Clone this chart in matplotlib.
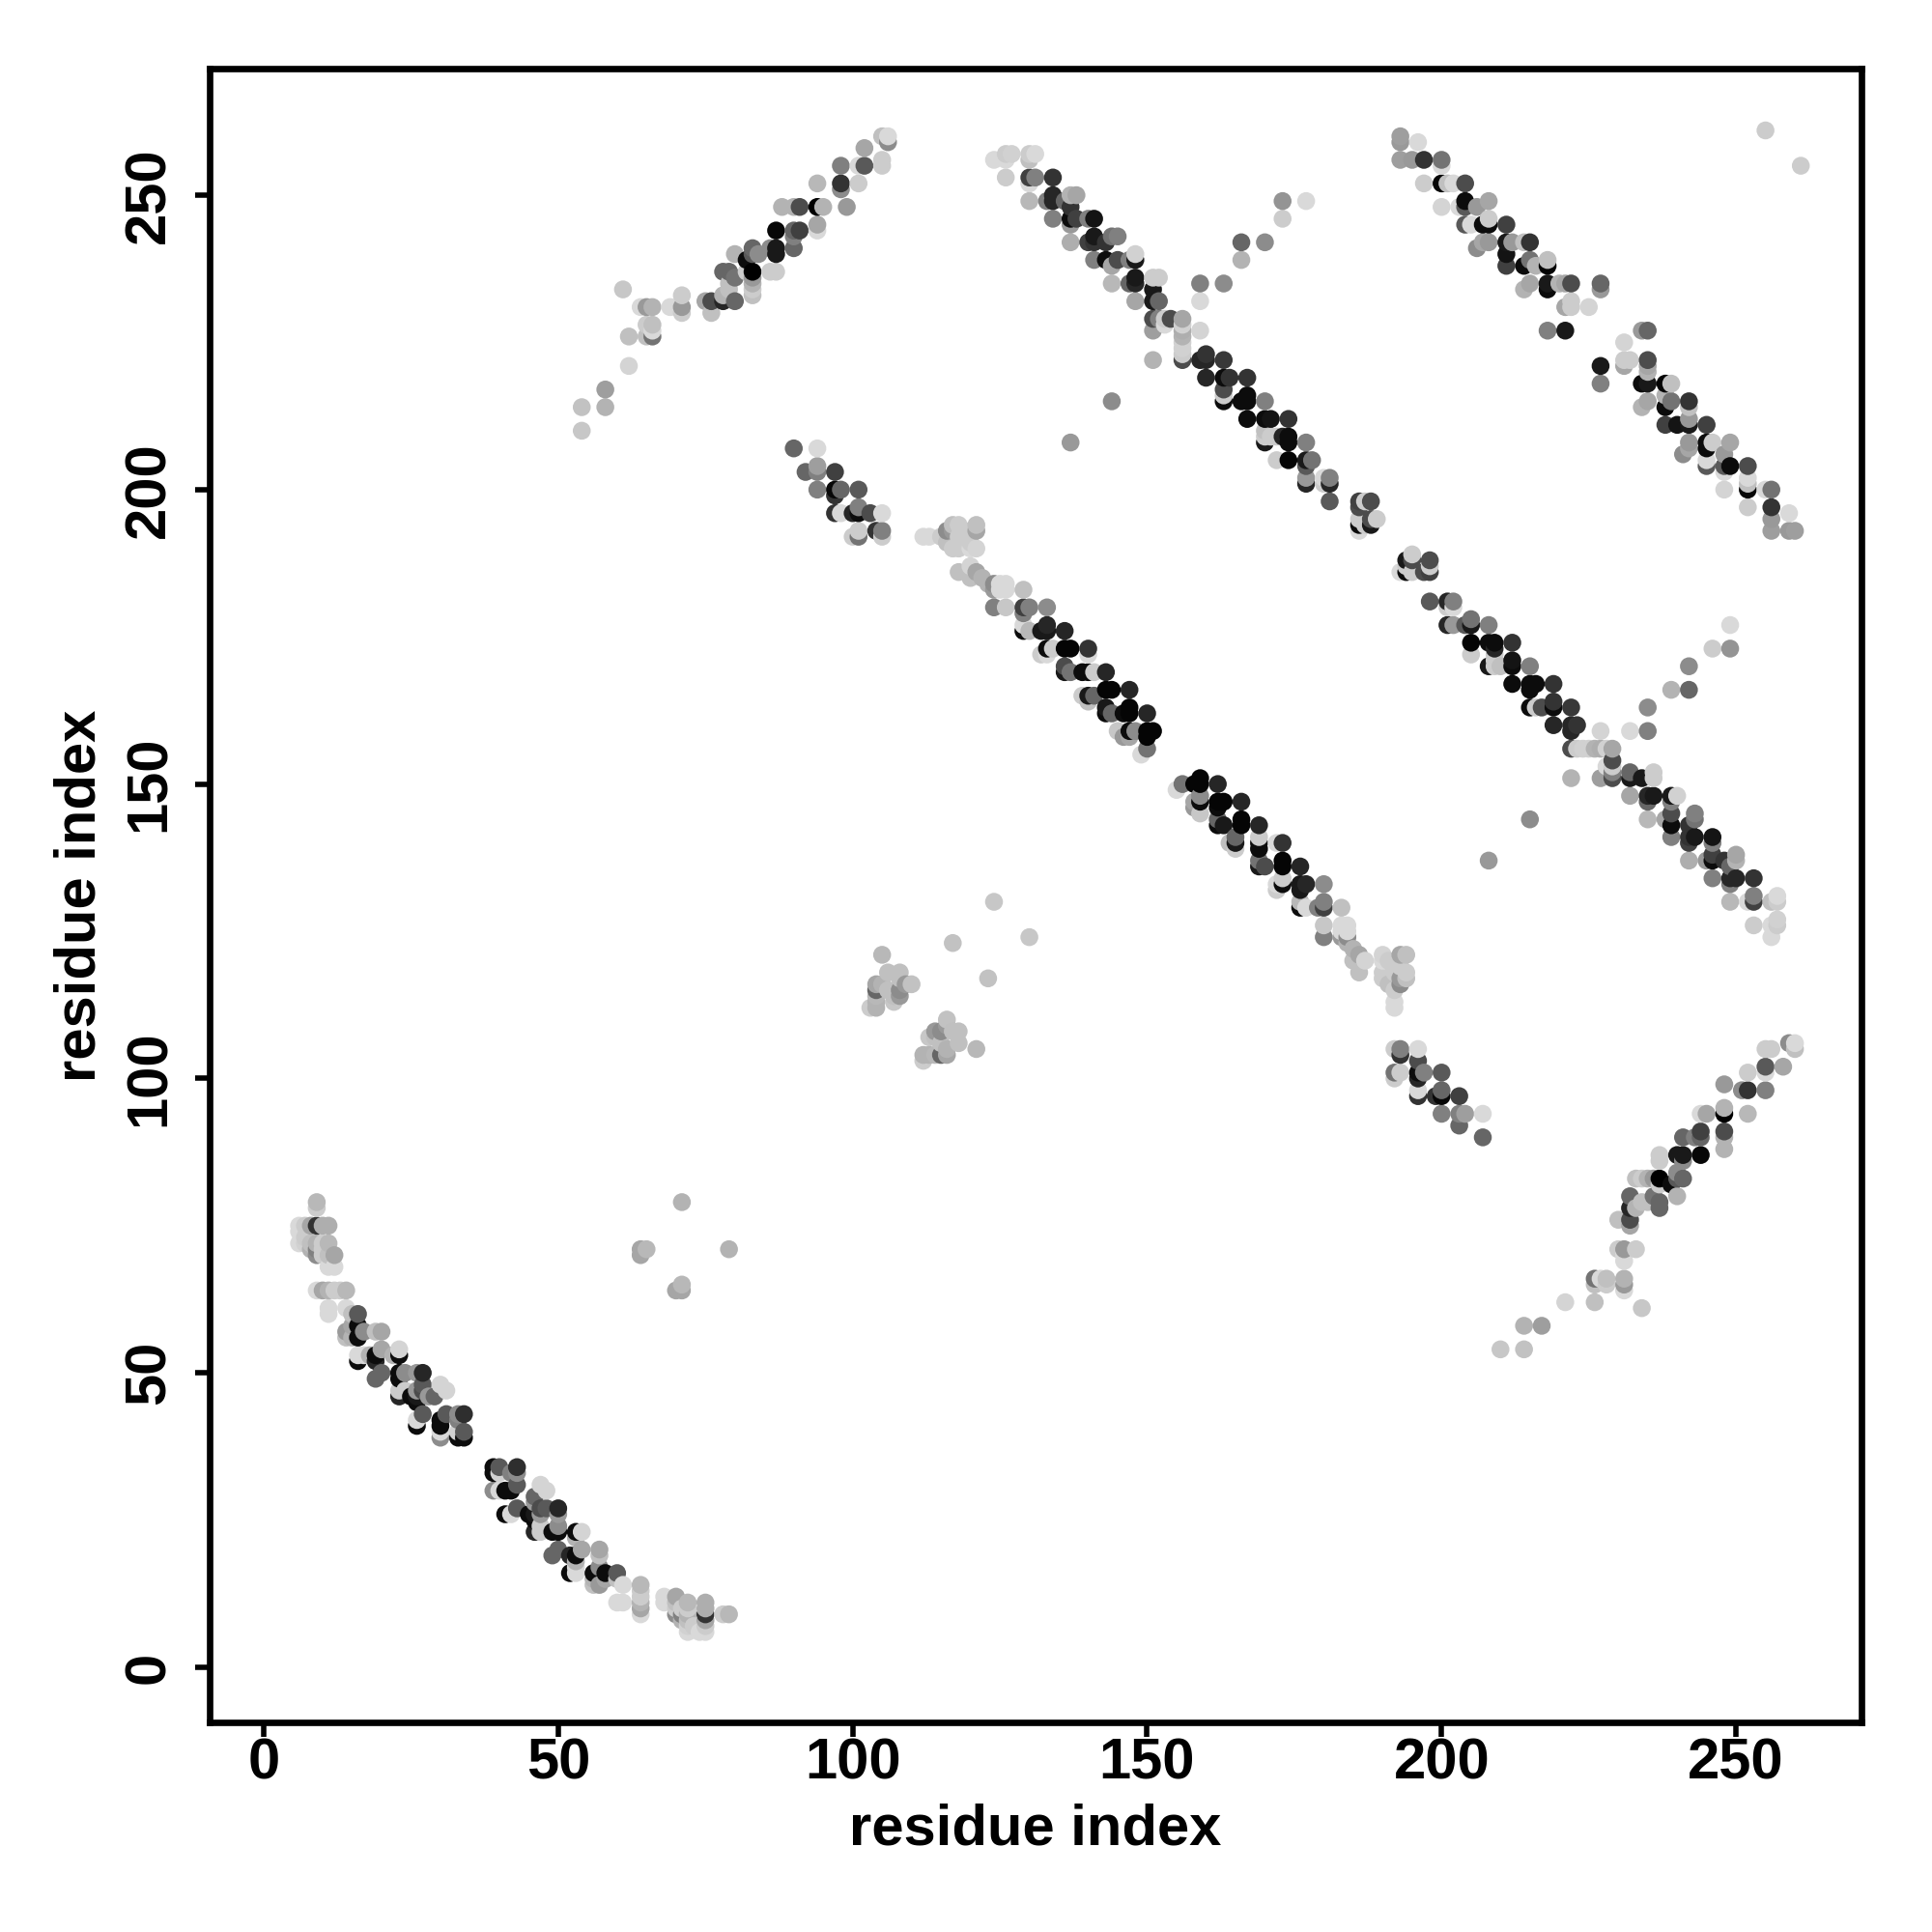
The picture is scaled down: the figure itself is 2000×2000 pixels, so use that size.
import numpy as np
import matplotlib
matplotlib.use('Agg')
import matplotlib.pyplot as plt

# contacts: (residue i, residue j, grey level), i < j
# the map is symmetric so each one is drawn at (i, j) and (j, i)
helix_a = [
    (6,72,.85),(6,74,.85),(6,75,.85),(7,72,.82),(7,73,.8),(7,75,.8),(8,71,.7),(8,72,.75),(8,75,.65),
    (9,64,.85),(9,70,.55),(9,71,.5),(9,72,.7),(9,75,.2),(9,78,.8),(9,79,.72),
    (10,64,.65),(10,70,.8),(10,71,.8),(10,72,.8),(10,75,.68),
    (11,60,.85),(11,61,.85),(11,64,.7),(11,68,.85),(11,70,.75),(11,72,.72),(11,75,.68),
    (12,64,.8),(12,68,.85),(12,70,.65),(13,64,.8),(14,56,.75),(14,57,.6),(14,61,.85),(14,64,.72),
    (15,56,.7),(15,58,.65),(15,60,.75),(16,52,.05),(16,53,.85),(16,56,.05),(16,58,.05),(16,60,.35),
    (17,53,.85),(17,57,.55),(18,53,.7),(19,49,.4),(19,52,.15),(19,53,.05),(19,57,.75),
    (20,50,.4),(20,54,.65),(20,57,.65),(22,53,.7),(23,46,.15),(23,47,.8),(23,49,.05),(23,50,.05),
    (23,53,.05),(23,54,.83),(24,47,.8),(24,50,.55),(25,46,.05),(26,41,.05),(26,42,.85),(26,45,.05),
    (26,46,.1),(26,47,.6),(26,50,.6),(27,43,.35),(27,47,.3),(27,48,.35),(27,50,.15),
    (28,46,.6),(29,46,.4),(30,39,.55),(30,40,.85),(30,41,.05),(30,42,.05),(30,48,.83),(31,43,.35),(31,47,.83),
    (33,39,.05),(33,40,.82),(33,42,.5),(33,43,.55),(34,39,.05),(34,40,.35),(34,43,.18),
    (64,70,.65),(64,71,.65),(65,71,.72),(71,79,.7),
]
strand_a = [
    (54,210,.78),(54,214,.76),(58,214,.7),(58,217,.62),(61,234,.78),(62,221,.83),(62,226,.75),
    (64,231,.85),(65,226,.75),(65,228,.8),(65,231,.6),(66,226,.45),(66,227,.85),(66,228,.75),(66,231,.7),
    (69,231,.85),(70,231,.85),(71,230,.8),(71,231,.6),(71,233,.8),(75,232,.65),(76,230,.75),(76,232,.3),
    (78,232,.15),(78,233,.7),(78,237,.4),(79,234,.75),(79,235,.75),(79,237,.4),(80,232,.4),(80,236,.45),(80,240,.7),
    (82,239,.05),(82,237,.8),(83,233,.75),(83,234,.8),(83,235,.7),(83,236,.6),(83,237,.0),(83,240,.35),(83,241,.4),
    (84,240,.55),(86,237,.8),(86,241,.55),(87,237,.8),(87,240,.1),(87,241,.1),(87,244,.03),
    (88,248,.7),(90,241,.4),(90,243,.5),(90,244,.4),(90,248,.7),(91,244,.25),(91,248,.3),
    (94,244,.85),(94,245,.65),(94,248,.0),(94,252,.72),(95,248,.7),(98,251,.55),(98,252,.2),(98,255,.5),(99,248,.6),
    (101,252,.8),(101,255,.85),(102,255,.35),(102,258,.65),(105,255,.8),(105,256,.8),(105,260,.75),(106,259,.55),(106,260,.85),
]
strand_b = [
    (90,207,.4),(94,207,.85),(92,203,.4),(94,203,.5),(94,204,.62),(97,203,.25),(94,200,.5),(97,199,.2),(97,200,.03),
    (98,200,.4),(101,200,.35),(97,196,.2),(98,196,.85),(100,196,.15),(101,196,.05),(101,197,.5),(103,196,.3),(105,196,.85),
    (100,192,.8),(101,192,.45),(101,193,.8),(104,193,.2),(105,192,.8),(105,193,.5),
]
local_cluster = [
    (103,112,.8),(104,112,.7),(104,113,.7),(104,114,.72),(104,115,.4),(104,116,.65),(105,116,.7),(105,121,.72),
    (106,115,.75),(106,118,.75),(107,113,.78),(107,114,.75),(108,114,.6),(108,115,.55),(108,117,.75),(108,118,.75),
    (109,116,.6),(110,116,.76),(117,123,.76),(124,130,.78),
]
strand_c = [
    (112,192,.85),(113,192,.85),(115,192,.8),(116,191,.75),(116,193,.55),(117,190,.8),(117,193,.6),(117,194,.75),
    (118,186,.75),(118,190,.8),(118,192,.8),(118,194,.8),(119,193,.8),(120,185,.75),(120,187,.83),(120,190,.85),(120,191,.8),
    (121,186,.65),(121,190,.83),(121,193,.65),(121,194,.75),(122,185,.7),(123,184,.7),
    (124,180,.5),(124,183,.6),(124,184,.55),(125,183,.85),(125,184,.85),(126,180,.78),(126,183,.85),(126,184,.85),
    (129,176,.05),(129,177,.85),(129,179,.5),(129,180,.25),(129,183,.75),(130,176,.72),(130,180,.5),
    (132,172,.8),(132,176,.1),(133,172,.85),(133,173,.05),(133,176,.1),(133,177,.15),(133,180,.55),(134,173,.8),
    (136,169,.1),(136,170,.3),(136,173,.02),(136,176,.15),(137,169,.45),(137,173,.02),
    (139,165,.8),(139,169,.05),(140,164,.75),(140,165,.1),(140,169,.05),(140,172,.85),(140,173,.2),
    (141,165,.4),(141,169,.8),(143,162,.05),(143,163,.1),(143,166,.02),(143,169,.15),(144,162,.4),(144,166,.02),
    (145,159,.78),(146,158,.6),(146,162,.05),(147,158,.65),(147,159,.05),(147,162,.02),(147,163,.02),(147,166,.15),
    (148,159,.55),(149,155,.85),(150,156,.45),(150,158,.02),(150,159,.02),(150,162,.15),(151,159,.02),
]
strand_d = [
    (124,256,.85),(126,253,.8),(126,256,.85),(126,257,.8),(127,257,.82),(130,249,.72),(130,252,.85),(130,253,.25),
    (130,256,.75),(130,257,.8),(131,253,.5),(131,257,.85),(133,249,.5),(134,246,.5),(134,249,.15),(134,250,.15),(134,253,.2),
    (136,249,.4),(137,242,.68),(137,245,.6),(137,246,.05),(137,248,.2),(137,250,.7),(138,246,.25),(138,250,.65),
    (140,242,.25),(140,246,.5),(141,239,.5),(141,242,.2),(141,243,.1),(141,246,.08),(143,239,.05),(143,242,.2),
    (144,235,.72),(144,238,.65),(144,243,.45),(145,239,.3),(145,243,.5),(147,235,.4),(147,239,.5),
    (148,232,.65),(148,235,.15),(148,236,.1),(148,239,.1),(148,240,.82),(151,227,.62),(151,229,.3),(151,232,.1),(151,234,.1),(151,236,.8),
    (152,229,.5),(152,232,.4),(152,236,.8),(153,228,.85),(153,229,.8),(154,229,.3),
    (156,222,.3),(156,223,.8),(156,224,.82),(156,225,.82),(156,226,.7),(156,227,.68),(156,228,.82),(156,229,.65),
    (159,222,.15),(160,219,.15),(160,222,.15),(160,223,.2),(163,215,.05),(163,216,.8),(163,217,.3),(163,219,.05),(163,222,.22),
    (164,219,.2),(166,215,.05),(167,212,.05),(167,215,.05),(167,216,.05),(167,219,.2),
    (170,208,.1),(170,209,.8),(170,210,.75),(170,212,.05),(170,215,.5),(171,209,.8),(171,212,.08),(172,205,.8),(172,209,.8),
    (173,209,.15),(174,205,.02),(174,208,.05),(174,209,.05),(174,212,.2),(177,201,.15),(177,202,.6),(177,204,.35),(177,205,.1),(177,208,.5),
    (178,205,.45),(180,201,.8),(180,202,.85),(181,198,.35),(181,201,.15),(181,202,.5),
    (186,193,.85),(186,194,.05),(186,195,.8),(186,197,.3),(186,198,.25),(187,194,.8),(187,198,.8),(188,194,.1),(188,195,.3),(188,198,.3),(189,195,.8),
]
strand_e = [
    (193,256,.62),(193,259,.6),(193,260,.62),(195,256,.6),(196,259,.85),(197,252,.8),(197,256,.2),(200,248,.83),(200,252,.03),
    (200,255,.85),(200,256,.45),(201,252,.75),(202,252,.85),(203,248,.85),(204,245,.35),(204,248,.35),(204,249,.05),(204,252,.3),
    (205,245,.85),(206,241,.55),(206,248,.6),(207,242,.65),(207,245,.05),(208,242,.6),(208,245,.05),(208,246,.8),(208,249,.65),
    (211,238,.25),(211,240,.08),(211,242,.1),(211,245,.25),(212,242,.6),(214,234,.7),(214,238,.05),(214,242,.75),(215,235,.65),(215,239,.45),(215,242,.2),
    (216,238,.7),(218,227,.5),(218,234,.05),(218,235,.1),(218,238,.02),(218,239,.75),(220,235,.7),(221,227,.1),(221,231,.65),(221,235,.65),
    (222,231,.8),(222,232,.8),(222,235,.3),(225,231,.83),(227,234,.6),(227,235,.4),
]
lone_contacts = [
    (137,208,.6),(144,215,.55),(159,227,.83),(159,232,.85),(159,235,.5),(163,235,.55),(151,222,.7),
    (166,239,.7),(166,242,.4),(170,242,.55),(173,246,.8),(173,249,.58),(177,249,.85),(255,261,.8),
]

contacts = np.array(helix_a + strand_a + strand_b + local_cluster + strand_c + strand_d + strand_e + lone_contacts)
res_i = contacts[:, 0]
res_j = contacts[:, 1]
shade = contacts[:, 2]

x_vals = np.concatenate([res_i, res_j])
y_vals = np.concatenate([res_j, res_i])
greys = np.concatenate([shade, shade])
order = np.lexsort((y_vals, x_vals))

plt.rcParams['font.family'] = ['Liberation Sans', 'DejaVu Sans']
plt.rcParams['font.weight'] = 'bold'

fig = plt.figure(figsize=(20, 20), dpi=100)
ax = fig.add_axes([217 / 2000, 1 - 1783 / 2000, 1710 / 2000, 1712 / 2000])

ax.scatter(x_vals[order], y_vals[order], s=178, c=greys[order], cmap='gray', vmin=0, vmax=1,
           linewidths=0, clip_on=True, zorder=3)

ax.set_xlim(-9.19, 271.3)
ax.set_ylim(-9.35, 271.5)
ax.set_xticks([0, 50, 100, 150, 200, 250])
ax.set_yticks([0, 50, 100, 150, 200, 250])
ax.tick_params(axis='both', length=11, width=4, labelsize=43, color='black')
ax.tick_params(axis='x', pad=0)
ax.tick_params(axis='y', pad=14)
for lab in ax.get_yticklabels():
    lab.set_rotation(90)
    lab.set_va('center')
for side in ax.spines.values():
    side.set_linewidth(4.8)

ax.set_xlabel('residue index', fontsize=43, fontweight='bold')
ax.set_ylabel('residue index', fontsize=43, fontweight='bold')
ax.xaxis.set_label_coords(0.5, -0.049)
ax.yaxis.set_label_coords(-0.062, 0.5)

fig.savefig('out.png', dpi=100, facecolor='white')
